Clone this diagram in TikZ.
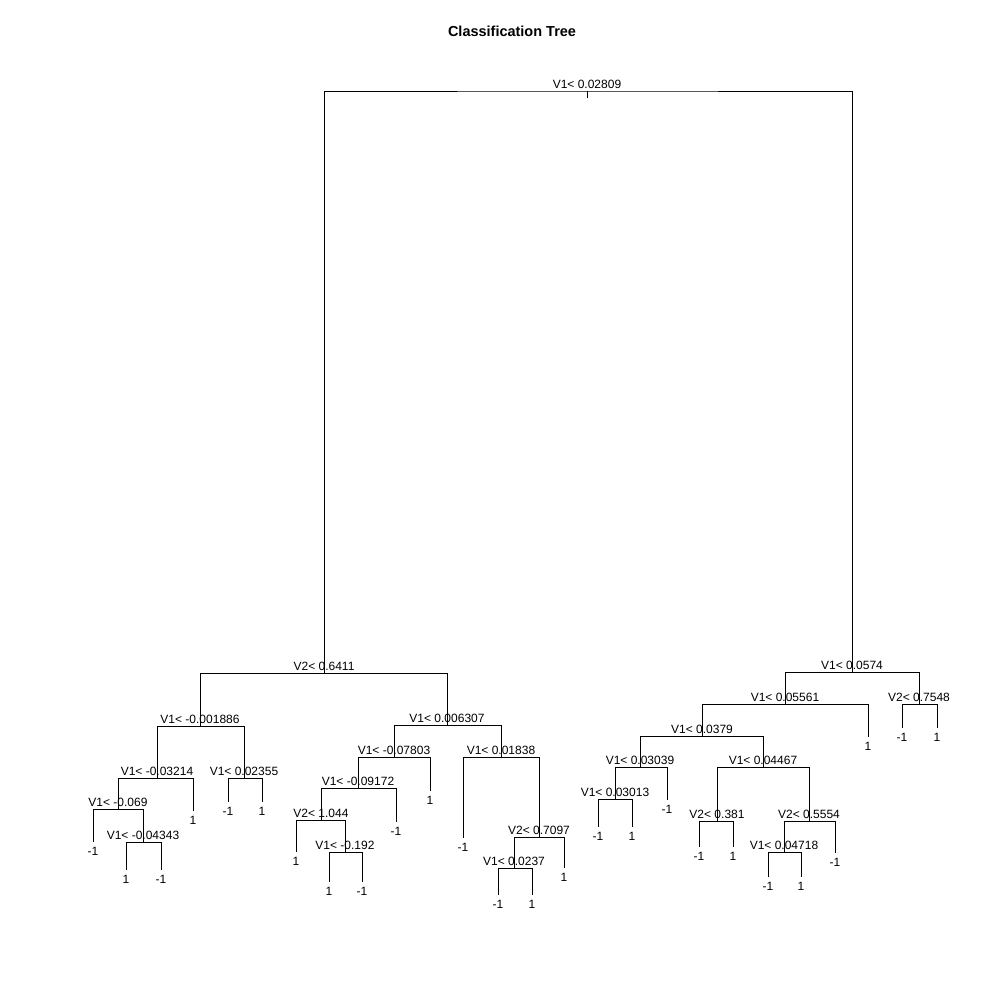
\documentclass[tikz,border=0pt]{standalone}
\usepackage{fontspec}
\setmainfont{Liberation Sans}
\usepackage{tikz}
\usetikzlibrary{positioning}

\begin{document}
\begin{tikzpicture}[x=0.25mm, y=-0.25mm, line width=0.7pt,
  splitlab/.style={inner sep=0pt, font=\fontsize{8.54}{10}\selectfont},
  leaflab/.style={inner sep=0pt, font=\fontsize{8.54}{10}\selectfont}]
\useasboundingbox (0,0) rectangle (1000,1000);

\node[font=\fontsize{10.3}{12}\selectfont\bfseries] (title) at (512,31) {Classification Tree};

% split points
\coordinate (t) at (587,91);
\coordinate (tstub) at (587,98);
\coordinate (tL) at (324,673);
\coordinate (tLL) at (200,726);
\coordinate (tLLL) at (157,778);
\coordinate (tLLLL) at (118,809);
\coordinate (tLLLLR) at (143,842);
\coordinate (tLLR) at (244,778);
\coordinate (tLR) at (447,725);
\coordinate (tLRL) at (394,757);
\coordinate (tLRLL) at (358,788);
\coordinate (tLRLLL) at (321,820);
\coordinate (tLRLLLR) at (345,852);
\coordinate (tLRR) at (501,757);
\coordinate (tLRRR) at (539,837);
\coordinate (tLRRRL) at (514,868);
\coordinate (tR) at (852,672);
\coordinate (tRL) at (785,704);
\coordinate (tRLL) at (702,736);
\coordinate (tRLLL) at (640,767);
\coordinate (tRLLLL) at (615,799);
\coordinate (tRLLR) at (763,767);
\coordinate (tRLLRL) at (717,821);
\coordinate (tRLLRR) at (809,821);
\coordinate (tRLLRRL) at (784,852);
\coordinate (tRR) at (919,704);

% leaf ends
\coordinate (tLLLLL) at (93,842);
\coordinate (tLLLLRL) at (126,870);
\coordinate (tLLLLRR) at (161,870);
\coordinate (tLLLR) at (193,811);
\coordinate (tLLRL) at (228,802);
\coordinate (tLLRR) at (262,802);
\coordinate (tLRLLLL) at (296,852);
\coordinate (tLRLLLRL) at (329,882);
\coordinate (tLRLLLRR) at (362,882);
\coordinate (tLRLLR) at (396,822);
\coordinate (tLRLR) at (430,791);
\coordinate (tLRRL) at (463,838);
\coordinate (tLRRRLL) at (498,895);
\coordinate (tLRRRLR) at (532,895);
\coordinate (tLRRRR) at (564,868);
\coordinate (tRLLLLL) at (598,827);
\coordinate (tRLLLLR) at (632,827);
\coordinate (tRLLLR) at (667,800);
\coordinate (tRLLRLL) at (699,847);
\coordinate (tRLLRLR) at (733,847);
\coordinate (tRLLRRLL) at (768,877);
\coordinate (tRLLRRLR) at (801,877);
\coordinate (tRLLRRR) at (835,853);
\coordinate (tRLR) at (868,737);
\coordinate (tRRL) at (902,728);
\coordinate (tRRR) at (937,728);

% branches
\draw (t) -- (tstub);
\draw (tL) |- (t) -| (tR);
\draw (tLL) |- (tL) -| (tLR);
\draw (tLLL) |- (tLL) -| (tLLR);
\draw (tLLLL) |- (tLLL) -| (tLLLR);
\draw (tLLLLL) |- (tLLLL) -| (tLLLLR);
\draw (tLLLLRL) |- (tLLLLR) -| (tLLLLRR);
\draw (tLLRL) |- (tLLR) -| (tLLRR);
\draw (tLRL) |- (tLR) -| (tLRR);
\draw (tLRLL) |- (tLRL) -| (tLRLR);
\draw (tLRLLL) |- (tLRLL) -| (tLRLLR);
\draw (tLRLLLL) |- (tLRLLL) -| (tLRLLLR);
\draw (tLRLLLRL) |- (tLRLLLR) -| (tLRLLLRR);
\draw (tLRRL) |- (tLRR) -| (tLRRR);
\draw (tLRRRL) |- (tLRRR) -| (tLRRRR);
\draw (tLRRRLL) |- (tLRRRL) -| (tLRRRLR);
\draw (tRL) |- (tR) -| (tRR);
\draw (tRLL) |- (tRL) -| (tRLR);
\draw (tRLLL) |- (tRLL) -| (tRLLR);
\draw (tRLLLL) |- (tRLLL) -| (tRLLLR);
\draw (tRLLLLL) |- (tRLLLL) -| (tRLLLLR);
\draw (tRLLRL) |- (tRLLR) -| (tRLLRR);
\draw (tRLLRLL) |- (tRLLRL) -| (tRLLRLR);
\draw (tRLLRRL) |- (tRLLRR) -| (tRLLRRR);
\draw (tRLLRRLL) |- (tRLLRRL) -| (tRLLRRLR);
\draw (tRRL) |- (tRR) -| (tRRR);

% split labels
\node[splitlab, above=0.5mm of t] (tn) {V1< 0.02809};
\node[splitlab, above=0.5mm of tL] (tLn) {V2< 0.6411};
\node[splitlab, above=0.5mm of tLL] (tLLn) {V1< -0.001886};
\node[splitlab, above=0.5mm of tLLL] (tLLLn) {V1< -0.03214};
\node[splitlab, above=0.5mm of tLLLL] (tLLLLn) {V1< -0.069};
\node[splitlab, above=0.5mm of tLLLLR] (tLLLLRn) {V1< -0.04343};
\node[splitlab, above=0.5mm of tLLR] (tLLRn) {V1< 0.02355};
\node[splitlab, above=0.5mm of tLR] (tLRn) {V1< 0.006307};
\node[splitlab, above=0.5mm of tLRL] (tLRLn) {V1< -0.07803};
\node[splitlab, above=0.5mm of tLRLL] (tLRLLn) {V1< -0.09172};
\node[splitlab, above=0.5mm of tLRLLL] (tLRLLLn) {V2< 1.044};
\node[splitlab, above=0.5mm of tLRLLLR] (tLRLLLRn) {V1< -0.192};
\node[splitlab, above=0.5mm of tLRR] (tLRRn) {V1< 0.01838};
\node[splitlab, above=0.5mm of tLRRR] (tLRRRn) {V2< 0.7097};
\node[splitlab, above=0.5mm of tLRRRL] (tLRRRLn) {V1< 0.0237};
\node[splitlab, above=0.5mm of tR] (tRn) {V1< 0.0574};
\node[splitlab, above=0.5mm of tRL] (tRLn) {V1< 0.05561};
\node[splitlab, above=0.5mm of tRLL] (tRLLn) {V1< 0.0379};
\node[splitlab, above=0.5mm of tRLLL] (tRLLLn) {V1< 0.03039};
\node[splitlab, above=0.5mm of tRLLLL] (tRLLLLn) {V1< 0.03013};
\node[splitlab, above=0.5mm of tRLLR] (tRLLRn) {V1< 0.04467};
\node[splitlab, above=0.5mm of tRLLRL] (tRLLRLn) {V2< 0.381};
\node[splitlab, above=0.5mm of tRLLRR] (tRLLRRn) {V2< 0.5554};
\node[splitlab, above=0.5mm of tRLLRRL] (tRLLRRLn) {V1< 0.04718};
\node[splitlab, above=0.5mm of tRR] (tRRn) {V2< 0.7548};

% leaf labels
\node[leaflab, below=1.2mm of tLLLLL] (tLLLLLn) {-1};
\node[leaflab, below=1.2mm of tLLLLRL] (tLLLLRLn) {1};
\node[leaflab, below=1.2mm of tLLLLRR] (tLLLLRRn) {-1};
\node[leaflab, below=1.2mm of tLLLR] (tLLLRn) {1};
\node[leaflab, below=1.2mm of tLLRL] (tLLRLn) {-1};
\node[leaflab, below=1.2mm of tLLRR] (tLLRRn) {1};
\node[leaflab, below=1.2mm of tLRLLLL] (tLRLLLLn) {1};
\node[leaflab, below=1.2mm of tLRLLLRL] (tLRLLLRLn) {1};
\node[leaflab, below=1.2mm of tLRLLLRR] (tLRLLLRRn) {-1};
\node[leaflab, below=1.2mm of tLRLLR] (tLRLLRn) {-1};
\node[leaflab, below=1.2mm of tLRLR] (tLRLRn) {1};
\node[leaflab, below=1.2mm of tLRRL] (tLRRLn) {-1};
\node[leaflab, below=1.2mm of tLRRRLL] (tLRRRLLn) {-1};
\node[leaflab, below=1.2mm of tLRRRLR] (tLRRRLRn) {1};
\node[leaflab, below=1.2mm of tLRRRR] (tLRRRRn) {1};
\node[leaflab, below=1.2mm of tRLLLLL] (tRLLLLLn) {-1};
\node[leaflab, below=1.2mm of tRLLLLR] (tRLLLLRn) {1};
\node[leaflab, below=1.2mm of tRLLLR] (tRLLLRn) {-1};
\node[leaflab, below=1.2mm of tRLLRLL] (tRLLRLLn) {-1};
\node[leaflab, below=1.2mm of tRLLRLR] (tRLLRLRn) {1};
\node[leaflab, below=1.2mm of tRLLRRLL] (tRLLRRLLn) {-1};
\node[leaflab, below=1.2mm of tRLLRRLR] (tRLLRRLRn) {1};
\node[leaflab, below=1.2mm of tRLLRRR] (tRLLRRRn) {-1};
\node[leaflab, below=1.2mm of tRLR] (tRLRn) {1};
\node[leaflab, below=1.2mm of tRRL] (tRRLn) {-1};
\node[leaflab, below=1.2mm of tRRR] (tRRRn) {1};
\end{tikzpicture}
\end{document}
